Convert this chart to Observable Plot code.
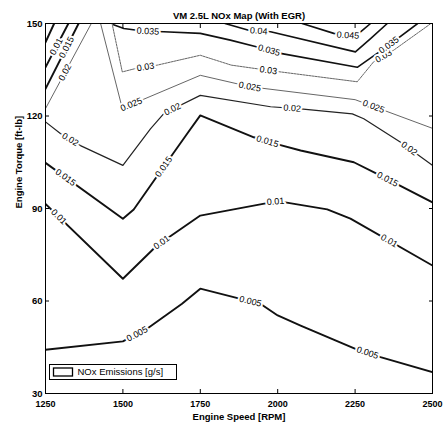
<!DOCTYPE html>
<html>
<head>
<meta charset="utf-8">
<script src="https://cdn.jsdelivr.net/npm/d3@7"></script>
<script src="https://cdn.jsdelivr.net/npm/@observablehq/plot@0.6"></script>
<style>
  html, body { margin: 0; padding: 0; background: #fff; }
</style>
</head>
<body>
<div id="chart"></div>
<script>
// ---------- data ----------
const titleText = "VM 2.5L NOx Map (With EGR)";
const xLabel = "Engine Speed [RPM]";
const yLabel = "Engine Torque [ft-lb]";
const legendLabel = "NOx Emissions [g/s]";

const xTicks = [1250, 1500, 1750, 2000, 2250, 2500];
const yTicks = [30, 60, 90, 120, 150];

// contour paths: [rpm, torque]
const c005 = [[1250,44.2],[1500,46.9],[1578,51],[1691,59.1],[1750,64],[1880,60.7],[1944,59.1],[2000,55.3],[2074,52],[2251,44.5],[2332,41.8],[2500,36.9]];
const c005corner = [[1278,150],[1250,143.9]];
const c010 = [[1250,91.5],[1500,67.2],[1610,78],[1750,87.7],[2000,92.4],[2160,89.7],[2235,86.7],[2500,71.5]];
const c010corner = [[1324,150],[1250,135.8]];
const c015 = [[1250,104.8],[1500,86.7],[1535,89.7],[1600,99],[1708,114.3],[1750,120.2],[1923,113.1],[2000,110.8],[2074,108.8],[2246,105],[2321,101.2],[2500,92]];
const c015corner = [[1357,150],[1250,128.8]];
const c020 = [[1250,118.1],[1298,114.3],[1363,110.4],[1500,104],[1589,115.8],[1632,120.8],[1750,126.7],[1977,123],[2074,122.3],[2241,120.7],[2278,119.1],[2397,111.5],[2500,104]];
const c020corner = [[1398,150],[1250,122.4]];
const c025 = [[1428,150],[1498,122.5],[1750,133.2],[1910,129.5],[2250,125.3],[2500,116]];
const c030 = [[1465,150],[1498,134.3],[1541,135.4],[1611,136.5],[1750,139.7],[1850,136.5],[1970,134.8],[2257,131.1],[2310,137.6],[2374,141.3],[2495,150]];
const c035 = [[1470,149.6],[1503,148.4],[1570,147.5],[1632,147.3],[1750,146.8],[1847,144.6],[1934,142.4],[2009,140.3],[2257,135.8],[2358,142.9],[2452,150]];
const c040 = [[1830,150],[1906,147.8],[1977,147.3],[2251,140.8],[2300,145.1],[2354,150]];
const c045 = [[2079,150],[2181,146.8],[2240,146],[2262,146.8],[2300,150]];

// label positions (rpm along each contour)
const lab005 = [1546, 1912, 2290];
const lab010 = [1293, 1625, 1993, 2360];
const lab010corner = [1285];
const lab015 = [1315, 1632, 1967, 2355];
const lab015corner = [1318];
const lab020 = [1330, 1660, 2047, 2425];
const lab020corner = [1313];
const lab025 = [1527, 1910, 2310];
const lab030 = [1573, 1970, 2342];
const lab035 = [1581, 1972, 2359];
const lab040 = [1939];
const lab045 = [2227];

const contours = [
  {level: "0.005", path: c005, labels: lab005, kind: "heavy"},
  {level: "0.005", path: c005corner, labels: [], kind: "heavy"},
  {level: "0.01", path: c010, labels: lab010, kind: "heavy"},
  {level: "0.01", path: c010corner, labels: lab010corner, kind: "heavy"},
  {level: "0.015", path: c015, labels: lab015, kind: "heavy"},
  {level: "0.015", path: c015corner, labels: lab015corner, kind: "heavy"},
  {level: "0.02", path: c020, labels: lab020, kind: "mid"},
  {level: "0.02", path: c020corner, labels: lab020corner, kind: "thin"},
  {level: "0.025", path: c025, labels: lab025, kind: "thin"},
  {level: "0.03", path: c030, labels: lab030, kind: "dot"},
  {level: "0.035", path: c035, labels: lab035, kind: "upper"},
  {level: "0.04", path: c040, labels: lab040, kind: "upper"},
  {level: "0.045", path: c045, labels: lab045, kind: "upper"}
];

// ---------- layout & styles ----------
const W = 446, H = 426, ML = 45, MR = 14, MT = 23, MB = 33;
const xDomain = [1250, 2500], yDomain = [30, 150];
const kx = (W - ML - MR) / (xDomain[1] - xDomain[0]);
const ky = (H - MT - MB) / (yDomain[1] - yDomain[0]);
const styles = {
  heavy: {stroke: "#111", strokeWidth: 1.9},
  mid:   {stroke: "#222", strokeWidth: 1.2},
  thin:  {stroke: "#555", strokeWidth: 0.9},
  dot:   {stroke: "#555", strokeWidth: 0.9, strokeDasharray: "2,1"},
  upper: {stroke: "#111", strokeWidth: 1.6}
};
const FONT = "'Liberation Sans', Arial, Helvetica, sans-serif";

function interp(path, x) {
  const p = path.slice().sort((a, b) => a[0] - b[0]);
  if (x <= p[0][0]) return p[0][1];
  for (let i = 1; i < p.length; i++) {
    if (x <= p[i][0]) {
      const [x0, y0] = p[i - 1], [x1, y1] = p[i];
      return y0 + (y1 - y0) * (x - x0) / (x1 - x0);
    }
  }
  return p[p.length - 1][1];
}

const labelData = [];
for (const c of contours) {
  const xs = c.path.map(d => d[0]);
  const lo = Math.min(...xs), hi = Math.max(...xs);
  for (const x of c.labels) {
    const h = 18;
    const xa = Math.max(lo, x - h), xb = Math.min(hi, x + h);
    const ya = interp(c.path, xa), yb = interp(c.path, xb);
    const angle = -Math.atan2((yb - ya) * ky, (xb - xa) * kx) * 180 / Math.PI;
    labelData.push({x, y: interp(c.path, x), text: c.level, rotate: angle});
  }
}

const marks = [];
for (const c of contours) {
  marks.push(Plot.line(c.path, {x: d => d[0], y: d => d[1], ...styles[c.kind], clip: true}));
}
marks.push(Plot.text(labelData, {
  x: "x", y: "y", text: "text", rotate: "rotate",
  fontSize: 9, fill: "#000", stroke: "white", strokeWidth: 4, strokeLinejoin: "round"
}));
marks.push(Plot.frame({stroke: "#000", strokeWidth: 1}));
marks.push(Plot.axisX({ticks: xTicks, tickSize: -4, tickPadding: 11, tickFormat: d => String(d), label: null, fontWeight: "bold", fontSize: 9, stroke: "#000"}));
marks.push(Plot.axisX({anchor: "top", ticks: xTicks, tickSize: -4, tickFormat: () => "", label: null, stroke: "#000"}));
marks.push(Plot.axisY({ticks: yTicks, tickSize: -4, tickPadding: 7, tickFormat: d => String(d), label: null, fontWeight: "bold", fontSize: 9.5, stroke: "#000"}));
marks.push(Plot.axisY({anchor: "right", ticks: yTicks, tickSize: -4, tickFormat: () => "", label: null, stroke: "#000"}));
marks.push(Plot.text([titleText], {text: d => d, frameAnchor: "top", dy: -11, fontWeight: "bold", fontSize: 9.5}));
marks.push(Plot.text([xLabel], {text: d => d, frameAnchor: "bottom", dy: 26, fontWeight: "bold", fontSize: 9.5}));
marks.push(Plot.text([yLabel], {text: d => d, frameAnchor: "left", dx: -27, rotate: -90, fontWeight: "bold", fontSize: 9.5}));

const chart = Plot.plot({
  width: W, height: H,
  marginLeft: ML, marginRight: MR, marginTop: MT, marginBottom: MB,
  x: {domain: xDomain},
  y: {domain: yDomain},
  style: {fontFamily: FONT, fontSize: "9.5px", background: "white", color: "black", overflow: "visible"},
  marks
});
document.getElementById("chart").appendChild(chart);

// legend box (lower-left inside the frame)
const svg = d3.select(chart);
const lg = svg.append("g");
const bx = ML + 4.5, by = H - MB - 28.5;
lg.append("rect").attr("x", bx).attr("y", by).attr("width", 127).attr("height", 15)
  .attr("fill", "white").attr("stroke", "#000").attr("stroke-width", 1);
lg.append("rect").attr("x", bx + 4).attr("y", by + 3.5).attr("width", 19).attr("height", 8)
  .attr("fill", "white").attr("stroke", "#000").attr("stroke-width", 1.3);
lg.append("text").attr("x", bx + 28).attr("y", by + 7.5).attr("dy", "0.35em")
  .attr("text-anchor", "start")
  .attr("font-family", FONT).attr("font-size", 9.5).attr("fill", "#000").text(legendLabel);
</script>
</body>
</html>
